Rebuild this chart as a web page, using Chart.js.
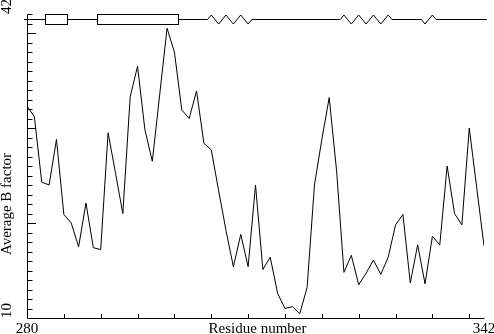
<!DOCTYPE html>
<html>
<head>
<meta charset="utf-8">
<script src="https://cdn.jsdelivr.net/npm/chart.js@4/dist/chart.umd.min.js"></script>
<style>
  html, body { margin: 0; padding: 0; background: #fff; }
  #c { display: block; }
</style>
</head>
<body>
<canvas id="c" width="494" height="334"></canvas>
<script>
// ---- Data ----
const residues = [280,281,282,283,284,285,286,287,288,289,290,291,292,293,294,295,296,297,298,299,300,
                  301,302,303,304,305,306,307,308,309,310,311,312,313,314,315,316,317,318,319,320,
                  321,322,323,324,325,326,327,328,329,330,331,332,333,334,335,336,337,338,339,340,341,342];
const bFactors = [32.3,31.2,24.3,24.0,28.8,20.9,20.0,17.5,22.1,17.4,17.2,
                  29.5,25.3,21.0,33.3,36.5,29.8,26.5,33.5,40.5,38.0,
                  31.9,31.0,33.9,28.4,27.7,23.4,19.2,15.4,18.8,15.4,
                  24.0,15.1,16.4,12.6,11.0,11.2,10.45,13.2,24.0,28.8,
                  33.2,25.5,14.8,16.6,13.5,14.7,16.1,14.6,16.4,19.8,
                  20.9,13.7,17.7,13.6,18.6,17.7,26.0,21.0,19.8,30.0,23.8,17.6];

// axis range and tick values
const xRange = [280, 342];
const yRange = [10, 42];
const xTicks = [285, 290, 295, 300, 305, 310, 315, 320, 325, 330, 335, 340];
const yMinorTicks = [11,12,13,14,15,16,17,18,19,21,22,23,24,25,26,27,28,29,31,32,33,34,35,36,37,38,39,41,42];
const yMajorTicks = [20, 30, 40];
const xLabels = ['280', '342'];
const yLabels = ['42', '10'];
const xTitle = 'Residue number';
const yTitle = 'Average B factor';

// secondary structure (residue ranges)
const strands = [[283, 285], [290, 300]];
const helices = [[305, 310, 'up'], [323, 329, 'up'], [334, 335, 'down']];
const ssLevel = 41.5;

const FONT = '15px "Liberation Serif", "DejaVu Serif", serif';

const whiteBg = {
  id: 'whiteBg',
  beforeDraw(chart) {
    const ctx = chart.ctx;
    ctx.save();
    ctx.fillStyle = '#fff';
    ctx.fillRect(0, 0, chart.width, chart.height);
    ctx.restore();
  }
};

const axesPlugin = {
  id: 'axesPlugin',
  afterDraw(chart) {
    const ctx = chart.ctx;
    const xs = chart.scales.x, ys = chart.scales.y;
    const px = v => xs.getPixelForValue(v);
    const py = v => ys.getPixelForValue(v);
    const ax = Math.round(px(xRange[0])) + 0.5;
    const ay = Math.round(py(yRange[0])) + 0.5;
    ctx.save();
    ctx.strokeStyle = '#000';
    ctx.fillStyle = '#000';
    ctx.lineWidth = 1;
    ctx.beginPath();
    // y axis
    ctx.moveTo(ax, Math.round(py(yRange[1])) + 0.5);
    ctx.lineTo(ax, ay);
    // x axis
    ctx.lineTo(Math.round(px(xRange[1])) + 0.5, ay);
    // y ticks
    yMinorTicks.forEach(v => {
      const y = Math.round(py(v)) + 0.5;
      ctx.moveTo(ax, y); ctx.lineTo(ax + 5, y);
    });
    yMajorTicks.forEach(v => {
      const y = Math.round(py(v)) + 0.5;
      ctx.moveTo(ax, y); ctx.lineTo(ax + 8.5, y);
    });
    // x ticks
    xTicks.forEach(v => {
      const x = Math.round(px(v)) + 0.5;
      ctx.moveTo(x, ay); ctx.lineTo(x, ay - 4.5);
    });
    ctx.stroke();

    // secondary structure
    const sy = Math.round(py(ssLevel)) + 0.5;
    const half = 5;
    ctx.beginPath();
    ctx.moveTo(px(xRange[0]) - 3, sy);
    const elems = [];
    strands.forEach(s => elems.push({type: 's', a: s[0], b: s[1]}));
    helices.forEach(h => elems.push({type: 'h', a: h[0], b: h[1], dir: h[2]}));
    elems.sort((p, q) => p.a - q.a);
    elems.forEach(e => {
      const x0 = px(e.a - 0.5), x1 = px(e.b + 0.5);
      if (e.type === 's') {
        ctx.lineTo(x0, sy);
        ctx.stroke();
        ctx.strokeRect(Math.round(x0) + 0.5, sy - half, Math.round(x1 - x0), half * 2);
        ctx.beginPath();
        ctx.moveTo(x1, sy);
      } else {
        ctx.lineTo(x0, sy);
        let up = e.dir === 'up';
        for (let r = e.a; r <= e.b; r++) {
          ctx.lineTo(px(r), up ? sy - 4.5 : sy + 4.5);
          up = !up;
        }
        ctx.lineTo(x1, sy);
      }
    });
    ctx.lineTo(px(xRange[1]) + 3, sy);
    ctx.stroke();

    // texts
    ctx.font = FONT;
    ctx.textBaseline = 'alphabetic';
    ctx.textAlign = 'center';
    ctx.fillText(xLabels[0], px(xRange[0]), 333);
    ctx.fillText(xLabels[1], px(xRange[1]), 333);
    ctx.fillText(xTitle, (chart.chartArea.left + chart.chartArea.right) / 2 + 2, 333);

    const rot = (txt, x, y, align) => {
      ctx.save();
      ctx.translate(x, y);
      ctx.rotate(-Math.PI / 2);
      ctx.textAlign = align;
      ctx.fillText(txt, 0, 0);
      ctx.restore();
    };
    rot(yLabels[0], 11, py(yRange[1]), 'left');
    rot(yLabels[1], 11, py(yRange[0]), 'left');
    rot(yTitle, 11, 204, 'center');
    ctx.restore();
  }
};

new Chart(document.getElementById('c'), {
  type: 'line',
  data: {
    datasets: [{
      data: residues.map((r, i) => ({x: r, y: bFactors[i]})),
      borderColor: '#000',
      borderWidth: 1,
      pointRadius: 0,
      tension: 0,
      fill: false
    }]
  },
  options: {
    responsive: false,
    animation: false,
    events: [],
    layout: { padding: { left: 27, right: 10, top: 14, bottom: 16 } },
    plugins: { legend: { display: false }, tooltip: { enabled: false } },
    scales: {
      x: { type: 'linear', min: xRange[0], max: xRange[1], display: false },
      y: { type: 'linear', min: yRange[0], max: yRange[1], display: false }
    }
  },
  plugins: [whiteBg, axesPlugin]
});
</script>
</body>
</html>
